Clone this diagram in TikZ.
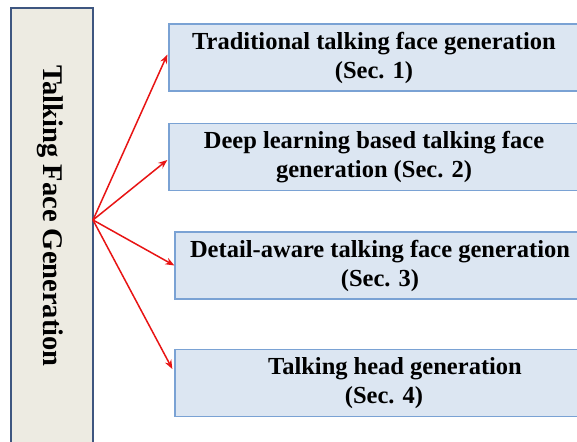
\documentclass[tikz,border=0pt]{standalone}
\usepackage{fontspec}
\setmainfont{Liberation Serif}
\usetikzlibrary{arrows.meta,calc}
\definecolor{leftfill}{RGB}{237,235,226}
\definecolor{leftdraw}{RGB}{62,86,128}
\definecolor{boxfill}{RGB}{220,230,242}
\definecolor{boxdraw}{RGB}{122,162,212}
\definecolor{arrowred}{RGB}{232,20,20}
\begin{document}
\begin{tikzpicture}[x=1pt,y=-1pt,
  secbox/.style={draw=boxdraw,fill=boxfill,line width=1.3pt,minimum height=67pt,
    minimum width=410pt,inner sep=0pt,align=center,
    font=\fontsize{24.5}{29}\selectfont\bfseries},
  fanarrow/.style={draw=arrowred,line width=1.5pt,-{Stealth[length=9pt,width=7pt]}}]
\useasboundingbox (0,0) rectangle (577,441);
\clip (0,0) rectangle (577,441);
\fill[white] (0,0) rectangle (577,441);
\node[draw=leftdraw,fill=leftfill,line width=1.8pt,minimum width=82pt,minimum height=470pt,inner sep=0pt] (L) at (52,243) {};
\node[rotate=-90,font=\fontsize{28.5}{32}\selectfont\bfseries] (Lt) at (50,216) {Talking Face Generation};
\node[secbox] (b1) at (374,57.5) {Traditional talking face generation\\(Sec. 1)};
\node[secbox] (b2) at (374,157) {Deep learning based talking face\\generation (Sec. 2)};
\node[secbox] (b3) at (380,265.5) {Detail-aware talking face generation\\(Sec. 3)};
\node[secbox] (b4) at (380,383) {\hspace*{30pt}Talking head generation\\\hspace*{8pt}(Sec. 4)};
\coordinate (f) at (93,220);
\draw[fanarrow] (f) -- ($(b1.west)+(-1,-3)$);
\draw[fanarrow] (f) -- ($(b2.west)+(-1,3)$);
\draw[fanarrow] (f) -- ($(b3.west)+(0,0)$);
\draw[fanarrow] (f) -- ($(b4.west)+(-2,-14)$);
\end{tikzpicture}
\end{document}
